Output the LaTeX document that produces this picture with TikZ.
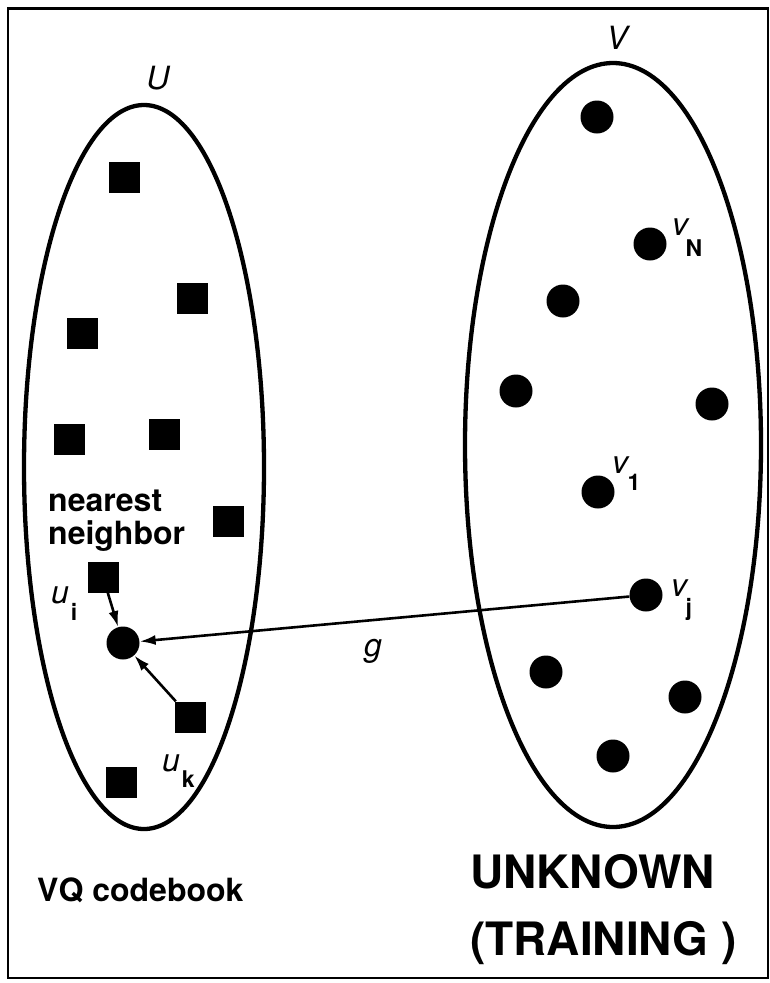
\documentclass[tikz,border=0pt]{standalone}
\usepackage{fontspec}
\setmainfont{TeX Gyre Heros}
\usetikzlibrary{arrows.meta}
\newcommand\sublab[4]{\textit{#1}\kern#3\raisebox{-#2}{\fontsize{23}{23}\selectfont\bfseries #4}}
\begin{document}
\begin{tikzpicture}[x=1pt,y=-1pt,
  sq/.style={rectangle,fill=black,minimum size=31pt,inner sep=0pt},
  dot/.style={circle,fill=black,minimum size=33pt,inner sep=0pt},
  conn/.style={line width=2.6pt,-{Latex[length=16pt,width=10pt]}},
  setline/.style={line width=4.3pt},
  lab/.style={font=\fontsize{32}{32}\selectfont,inner sep=0pt},
  boldtxt/.style={font=\fontsize{32}{33}\selectfont\bfseries,inner sep=0pt,align=left},
  bigtxt/.style={font=\fontsize{46}{67}\selectfont\bfseries,inner sep=0pt,align=left}]
\useasboundingbox (0,0) rectangle (770,983);
\fill[white] (0,0) rectangle (770,983);
\draw[line width=2.6pt] (8,8.5) rectangle (768,978);
% sets
\draw[setline] (144,467) ellipse [x radius=120pt, y radius=362pt];
\draw[setline] (613,445) ellipse [x radius=148pt, y radius=382pt];
\node[lab,font=\fontsize{32}{32}\selectfont\itshape] (Ulab) at (158,78) {U};
\node[lab,font=\fontsize{32}{32}\selectfont\itshape] (Vlab) at (617,38) {V};
% codebook squares
\node[sq] (s1) at (124,177) {};
\node[sq] (s2) at (192,298) {};
\node[sq] (s3) at (82,333) {};
\node[sq] (s4) at (69,439) {};
\node[sq] (s5) at (164,434) {};
\node[sq] (s6) at (228,521) {};
\node[sq] (ui) at (103,577) {};
\node[sq] (uk) at (190,717) {};
\node[sq] (s9) at (121,782) {};
\node[dot] (c) at (123,643) {};
% training dots
\node[dot] (d1) at (597,117) {};
\node[dot] (vN) at (650,244) {};
\node[dot] (d3) at (563,301) {};
\node[dot] (d4) at (516,391) {};
\node[dot] (d5) at (712,404) {};
\node[dot] (v1) at (598,492) {};
\node[dot] (vj) at (646,595) {};
\node[dot] (d8) at (546,672) {};
\node[dot] (d9) at (685,697) {};
\node[dot] (d10) at (613,756) {};
% connectors
\draw[conn] (vj) -- (c);
\draw[conn] (ui) -- (c);
\draw[conn] (uk) -- (c);
% labels
\node[lab,anchor=base west] (luI) at (51,603.5) {\sublab{u}{16.5pt}{2pt}{i}};
\node[lab,anchor=base west] (luK) at (162,771.5) {\sublab{u}{15.5pt}{2pt}{k}};
\node[lab,anchor=base west] (lvN) at (672,235.5) {\sublab{v}{20.5pt}{-4pt}{N}};
\node[lab,anchor=base west] (lv1) at (612,473.5) {\sublab{v}{16.5pt}{-2pt}{1}};
\node[lab,anchor=base west] (lvj) at (671,596.5) {\sublab{v}{19pt}{-3pt}{j}};
\node[lab,font=\fontsize{32}{32}\selectfont\itshape] (glab) at (373,651) {g};
\node[boldtxt,anchor=west] (nn) at (48,521) {nearest\\neighbor};
\node[boldtxt,anchor=base west] (vq) at (37,901) {VQ codebook};
\node[bigtxt,anchor=west] (unk) at (470,910) {UNKNOWN\\(TRAINING )};
\end{tikzpicture}
\end{document}
